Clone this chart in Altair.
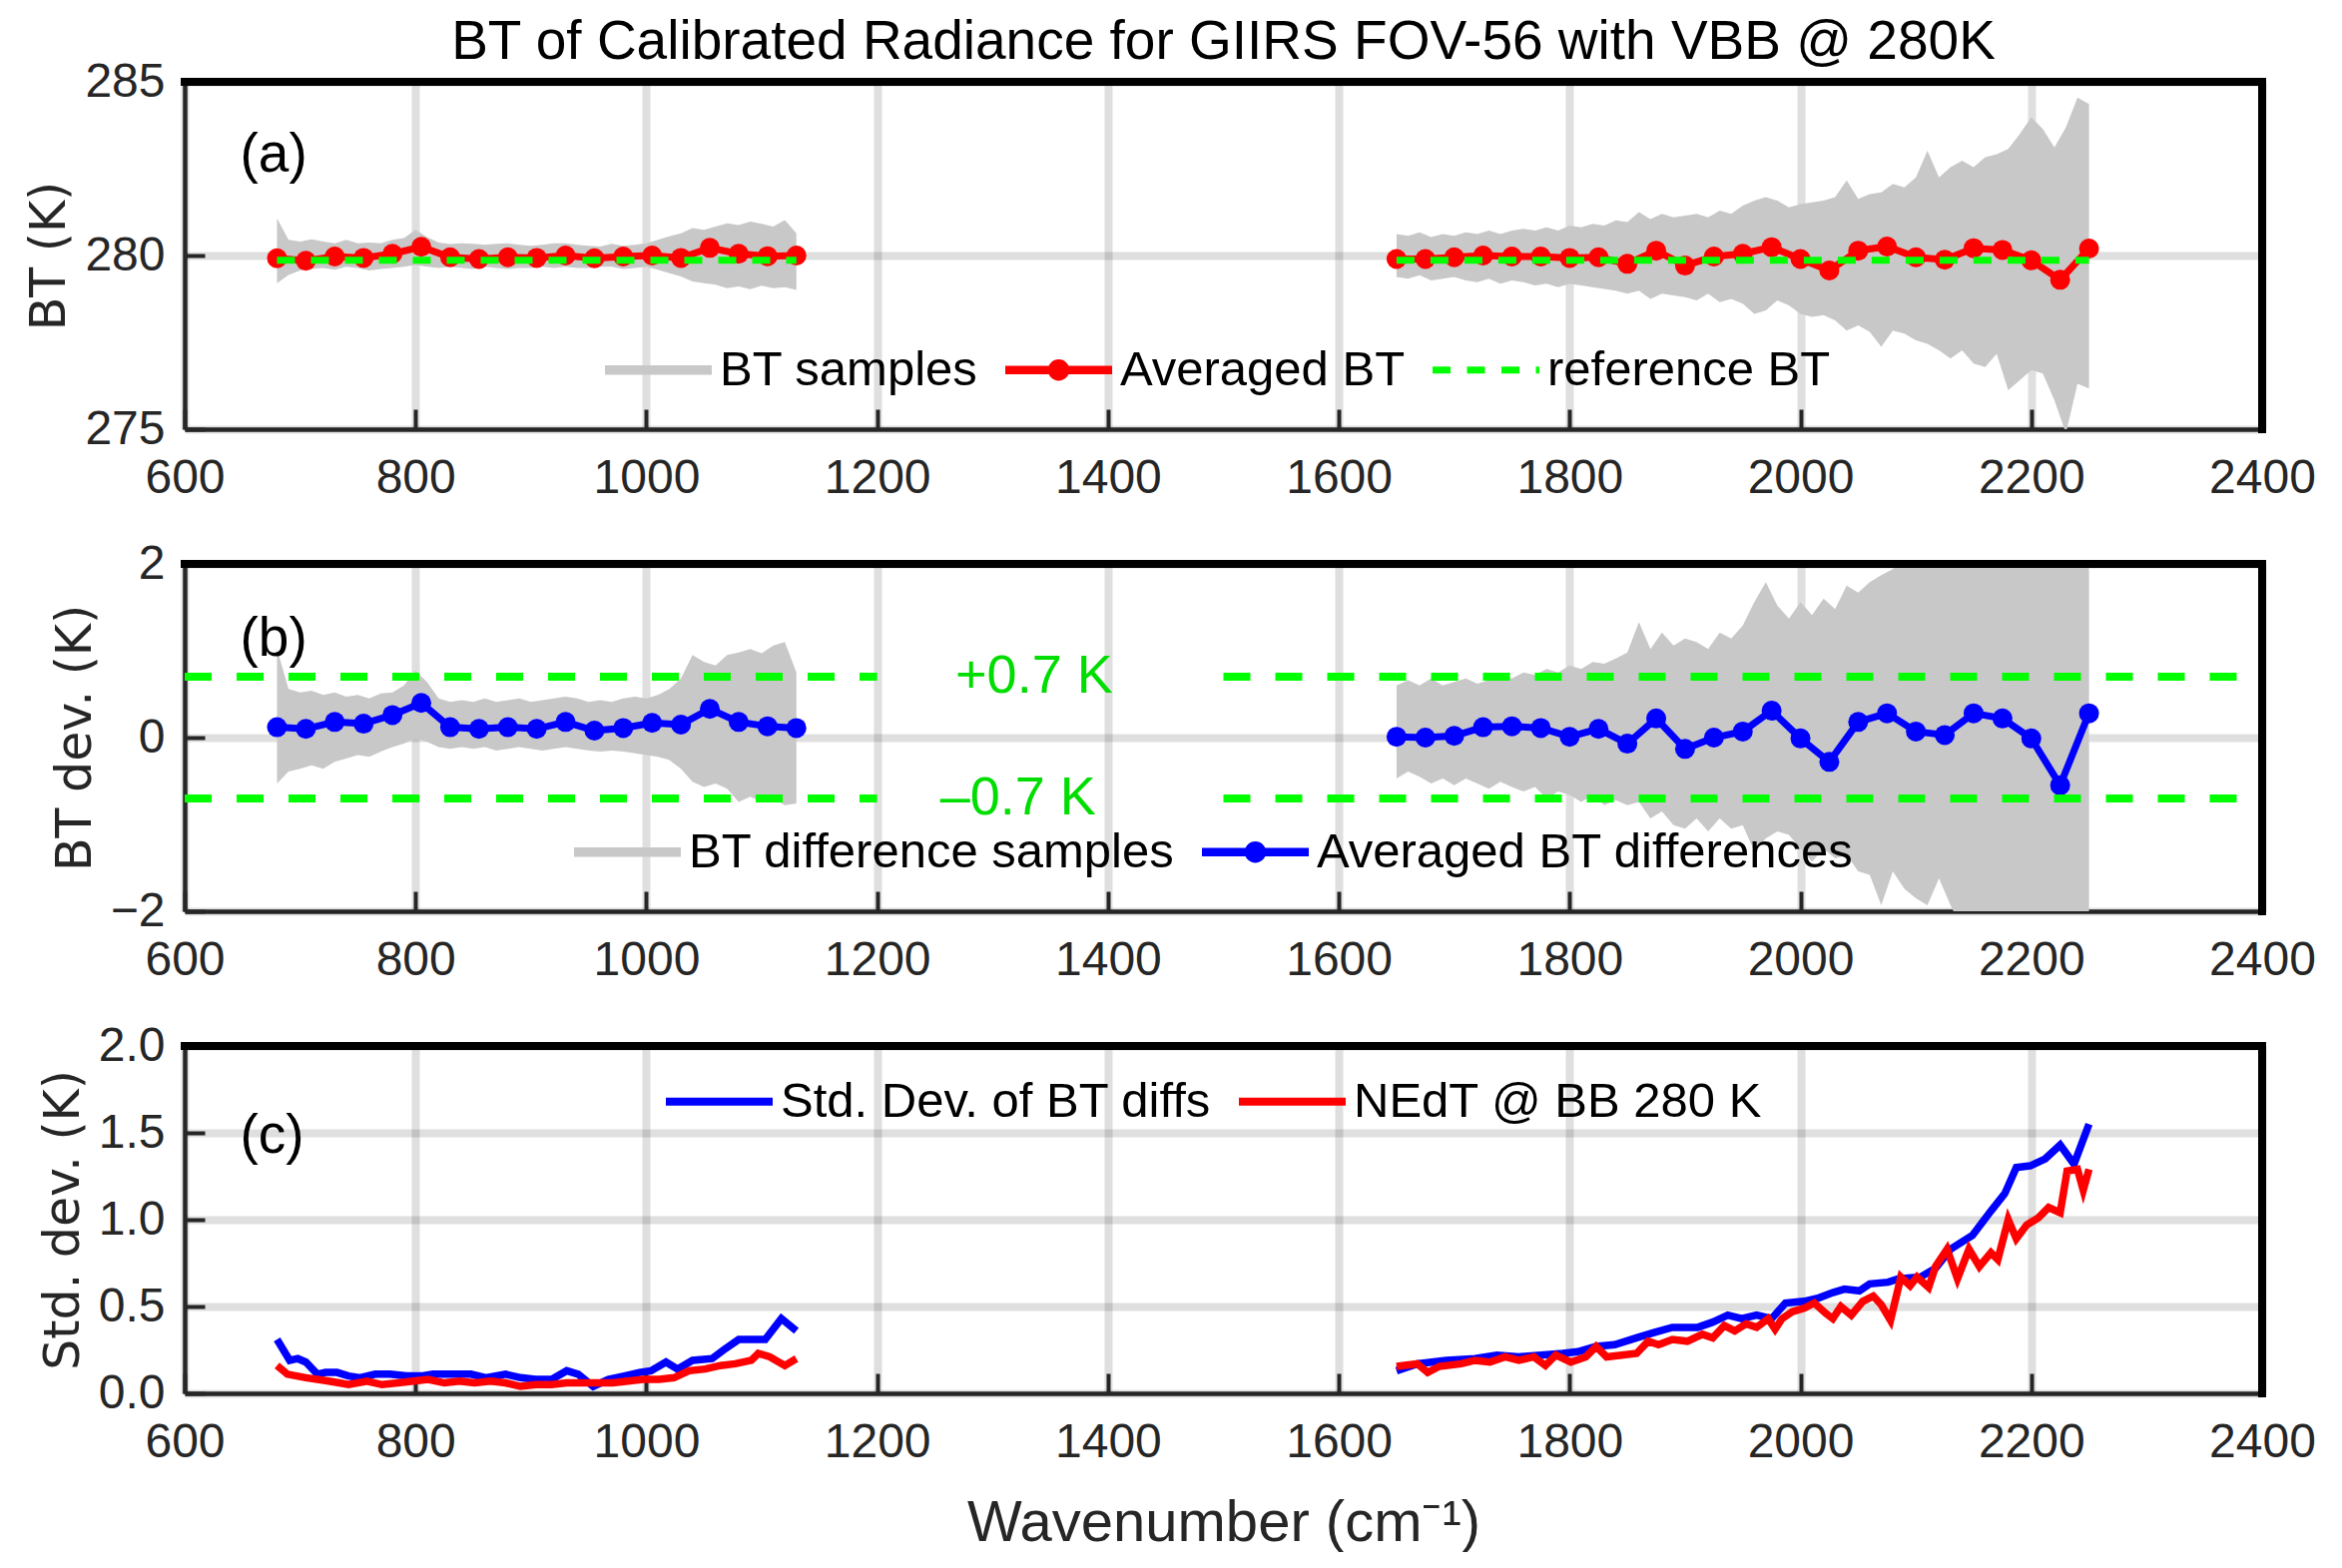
import altair as alt
import pandas as pd

# ---------------- text ----------------
TITLE = "BT of Calibrated Radiance for GIIRS FOV-56 with VBB @ 280K"
X_TITLE = "Wavenumber (cm\u207b\u00b9)"
Y_TITLES = ["BT (K)", "BT dev. (K)", "Std. dev. (K)"]
PANEL_TAGS = ["(a)", "(b)", "(c)"]
LEG_A = ["BT samples", "Averaged BT", "reference BT"]
LEG_B = ["BT difference samples", "Averaged BT differences"]
LEG_C = ["Std. Dev. of BT diffs", "NEdT @ BB 280 K"]
LIMIT_TEXT = ["+0.7 K", "\u20130.7 K"]

# ---------------- ticks ----------------
X_TICKS = [600, 800, 1000, 1200, 1400, 1600, 1800, 2000, 2200, 2400]
YA_TICKS = [275, 280, 285]
YB_TICKS = [-2, 0, 2]
YC_TICKS = [0, 0.5, 1.0, 1.5, 2.0]

# ---------------- averaged points ----------------
AVG_LW_X = [680, 705, 730, 755, 780, 805, 830, 855, 880, 905, 930, 955, 980, 1005, 1030, 1055, 1080, 1105, 1130]
AVG_MW_X = [1650, 1675, 1700, 1725, 1750, 1775, 1800, 1825, 1850, 1875, 1900, 1925, 1950, 1975, 2000, 2025,
            2050, 2075, 2100, 2125, 2150, 2175, 2200, 2225, 2250]
BT_AVG_LW = [279.92, 279.85, 279.97, 279.93, 280.05, 280.25, 279.95, 279.90, 279.95, 279.93, 280.00, 279.92,
             279.97, 280.00, 279.93, 280.22, 280.05, 279.98, 280.00]
BT_AVG_MW = [279.90, 279.90, 279.95, 280.00, 279.97, 279.97, 279.93, 279.95, 279.76, 280.14, 279.71, 279.97,
             280.05, 280.24, 279.90, 279.57, 280.14, 280.26, 279.95, 279.88, 280.21, 280.16, 279.86, 279.30, 280.20]
DIFF_AVG_LW = [0.12, 0.10, 0.18, 0.16, 0.26, 0.40, 0.12, 0.10, 0.12, 0.10, 0.18, 0.08, 0.11, 0.17, 0.15, 0.33,
               0.18, 0.13, 0.11]
DIFF_AVG_MW = [0.01, 0.00, 0.02, 0.12, 0.13, 0.11, 0.01, 0.10, -0.07, 0.22, -0.13, 0.00, 0.07, 0.31, -0.01,
               -0.28, 0.18, 0.28, 0.07, 0.03, 0.28, 0.22, -0.01, -0.55, 0.28]
REF_BT = 279.86
REF_X = [[680, 1130], [1650, 2250]]
LIMIT_LEVELS = [0.7, -0.7]
LIMIT_SEGS = [[600, 1200], [1500, 2400]]

# ---------------- sample envelopes (upper / lower edge of the grey noise) ----------------
ENV_LW_X = [680, 690, 700, 710, 720, 730, 740, 750, 760, 770, 780, 790, 800, 810, 820, 830, 840, 850, 860, 870,
            880, 890, 900, 910, 920, 930, 940, 950, 960, 970, 980, 990, 1000, 1010, 1020, 1030, 1040, 1050, 1060,
            1070, 1080, 1090, 1100, 1110, 1120, 1130]
ENV_MW_X = [1650, 1660, 1670, 1680, 1690, 1700, 1710, 1720, 1730, 1740, 1750, 1760, 1770, 1780, 1790, 1800,
            1810, 1820, 1830, 1840, 1850, 1860, 1870, 1880, 1890, 1900, 1910, 1920, 1930, 1940, 1950, 1960,
            1970, 1980, 1990, 2000, 2010, 2020, 2030, 2040, 2050, 2060, 2070, 2080, 2090, 2100, 2110, 2120,
            2130, 2140, 2150, 2160, 2170, 2180, 2190, 2200, 2210, 2220, 2230, 2240, 2250]

BT_HI_LW = [281.07, 280.45, 280.40, 280.47, 280.40, 280.35, 280.45, 280.35, 280.37, 280.35,
            280.45, 280.50, 280.74, 280.53, 280.37, 280.33, 280.35, 280.34, 280.31, 280.34,
            280.35, 280.31, 280.28, 280.31, 280.35, 280.35, 280.31, 280.28, 280.26, 280.34,
            280.28, 280.31, 280.35, 280.45, 280.55, 280.64, 280.79, 280.74, 280.83, 280.93,
            280.88, 280.98, 280.91, 280.83, 281.02, 280.64]
BT_LO_LW = [279.20, 279.44, 279.57, 279.61, 279.64, 279.59, 279.68, 279.64, 279.57, 279.61,
            279.64, 279.68, 279.73, 279.68, 279.64, 279.68, 279.64, 279.61, 279.68, 279.64,
            279.61, 279.64, 279.64, 279.68, 279.64, 279.68, 279.64, 279.64, 279.68, 279.68,
            279.61, 279.64, 279.68, 279.59, 279.49, 279.40, 279.25, 279.20, 279.16, 279.06,
            279.11, 279.03, 279.13, 279.06, 279.09, 279.01]
BT_HI_MW = [280.62, 280.57, 280.67, 280.53, 280.62, 280.57, 280.67, 280.62, 280.72, 280.62,
            280.72, 280.77, 280.72, 280.81, 280.72, 280.86, 280.81, 280.91, 280.86, 281.01,
            280.96, 281.25, 281.05, 281.20, 281.10, 281.15, 281.20, 281.10, 281.29, 281.20,
            281.44, 281.58, 281.68, 281.58, 281.39, 281.48, 281.53, 281.58, 281.68, 282.16,
            281.63, 281.77, 281.82, 282.06, 281.96, 282.25, 283.02, 282.25, 282.54, 282.73,
            282.54, 282.83, 282.92, 283.07, 283.50, 283.98, 283.64, 283.11, 283.69, 284.55,
            284.36]
BT_LO_MW = [279.38, 279.33, 279.43, 279.28, 279.33, 279.38, 279.28, 279.23, 279.33, 279.19,
            279.28, 279.23, 279.14, 279.19, 279.09, 279.19, 279.14, 279.09, 279.04, 278.99,
            278.90, 278.99, 278.75, 278.90, 278.85, 278.80, 278.71, 278.90, 278.66, 278.75,
            278.61, 278.32, 278.42, 278.71, 278.56, 278.32, 278.23, 278.28, 278.13, 277.84,
            277.99, 277.80, 277.37, 277.84, 277.75, 277.56, 277.46, 277.27, 277.03, 277.27,
            276.89, 276.79, 277.17, 276.12, 276.41, 276.70, 276.60, 275.83, 274.88, 276.31,
            276.17]

DIFF_HI_LW = [1.02, 0.56, 0.52, 0.54, 0.49, 0.52, 0.47, 0.49, 0.45, 0.51,
              0.52, 0.60, 0.77, 0.64, 0.45, 0.41, 0.43, 0.41, 0.45, 0.41,
              0.43, 0.45, 0.41, 0.43, 0.45, 0.47, 0.45, 0.41, 0.43, 0.41,
              0.45, 0.47, 0.45, 0.49, 0.56, 0.68, 0.95, 0.87, 0.83, 0.95,
              0.98, 1.02, 0.97, 1.06, 1.10, 0.75]
DIFF_LO_LW = [-0.53, -0.39, -0.36, -0.32, -0.36, -0.28, -0.24, -0.20, -0.22, -0.16,
              -0.11, -0.07, -0.01, -0.05, -0.11, -0.13, -0.11, -0.13, -0.11, -0.15,
              -0.13, -0.11, -0.13, -0.15, -0.13, -0.11, -0.13, -0.15, -0.16, -0.15,
              -0.16, -0.18, -0.20, -0.22, -0.26, -0.36, -0.51, -0.57, -0.53, -0.59,
              -0.74, -0.68, -0.74, -0.70, -0.78, -0.76]
DIFF_HI_MW = [0.60, 0.66, 0.60, 0.68, 0.60, 0.64, 0.68, 0.62, 0.66, 0.72,
              0.68, 0.75, 0.72, 0.79, 0.75, 0.83, 0.79, 0.87, 0.85, 0.91,
              0.98, 1.33, 1.02, 1.21, 1.06, 1.14, 1.10, 1.02, 1.21, 1.14,
              1.29, 1.56, 1.79, 1.52, 1.37, 1.56, 1.41, 1.60, 1.48, 1.75,
              1.67, 1.79, 1.87, 1.94, 2.10, 2.30, 2.20, 2.50, 2.40, 2.60,
              2.80, 2.70, 3.00, 3.10, 3.30, 3.80, 3.50, 3.20, 3.70, 4.20,
              4.00]
DIFF_LO_MW = [-0.47, -0.39, -0.45, -0.53, -0.47, -0.55, -0.47, -0.53, -0.59, -0.51,
              -0.57, -0.62, -0.57, -0.70, -0.62, -0.66, -0.74, -0.66, -0.78, -0.72,
              -0.78, -0.74, -0.93, -0.85, -1.01, -1.05, -0.93, -1.08, -0.93, -1.05,
              -1.01, -1.31, -1.16, -1.08, -1.12, -1.28, -1.43, -1.28, -1.39, -1.35,
              -1.54, -1.58, -1.93, -1.54, -1.74, -1.85, -1.93, -1.62, -1.93, -2.20,
              -2.40, -2.30, -2.60, -2.80, -2.70, -3.00, -3.20, -3.50, -4.00, -3.30,
              -3.40]

# ---------------- panel (c) ----------------
STD_LW_X = [680, 691, 698, 705, 715, 722, 732, 742, 752, 765, 778, 792, 805, 815, 831, 848, 861, 878, 891, 904,
            918, 931, 941, 954, 967, 981, 994, 1004, 1017, 1027, 1040, 1057, 1067, 1080, 1103, 1117, 1130]
STD_LW = [0.31, 0.19, 0.20, 0.18, 0.11, 0.12, 0.12, 0.10, 0.09, 0.11, 0.11, 0.10, 0.10, 0.11, 0.11, 0.11, 0.09,
          0.11, 0.09, 0.08, 0.08, 0.13, 0.11, 0.04, 0.08, 0.10, 0.12, 0.13, 0.18, 0.14, 0.19, 0.20, 0.25, 0.31,
          0.31, 0.43, 0.36]
NEDT_LW_X = [680, 689, 705, 725, 742, 758, 771, 785, 798, 811, 825, 838, 851, 865, 878, 891, 904, 918, 931, 944,
             957, 971, 984, 997, 1011, 1024, 1037, 1051, 1064, 1077, 1091, 1097, 1107, 1120, 1130]
NEDT_LW = [0.16, 0.11, 0.09, 0.07, 0.05, 0.07, 0.05, 0.06, 0.07, 0.08, 0.06, 0.07, 0.06, 0.07, 0.06, 0.04, 0.05,
           0.05, 0.06, 0.06, 0.06, 0.06, 0.07, 0.08, 0.08, 0.09, 0.13, 0.14, 0.16, 0.17, 0.19, 0.23, 0.21, 0.16,
           0.20]
STD_MW_X = [1650, 1668, 1693, 1718, 1737, 1756, 1775, 1794, 1807, 1823, 1839, 1858, 1873, 1889, 1911, 1924, 1937,
            1949, 1962, 1975, 1987, 2003, 2016, 2028, 2038, 2051, 2060, 2076, 2085, 2104, 2117, 2130, 2149, 2165,
            2177, 2187, 2199, 2212, 2225, 2237, 2250]
STD_MW = [0.13, 0.17, 0.19, 0.20, 0.22, 0.21, 0.22, 0.23, 0.24, 0.27, 0.28, 0.32, 0.35, 0.38, 0.38, 0.41, 0.45,
          0.43, 0.45, 0.43, 0.52, 0.53, 0.55, 0.58, 0.60, 0.59, 0.63, 0.64, 0.66, 0.67, 0.72, 0.83, 0.91, 1.05,
          1.15, 1.30, 1.31, 1.35, 1.43, 1.32, 1.55]
NEDT_MW_X = [1650, 1668, 1677, 1687, 1706, 1718, 1731, 1744, 1756, 1769, 1779, 1788, 1801, 1814, 1823, 1832, 1845,
             1858, 1868, 1877, 1889, 1902, 1915, 1924, 1934, 1943, 1953, 1962, 1972, 1978, 1984, 1993, 2003, 2012,
             2022, 2028, 2035, 2044, 2054, 2063, 2070, 2078, 2087, 2095, 2101, 2111, 2117, 2127, 2136, 2146, 2155,
             2165, 2171, 2180, 2187, 2196, 2206, 2215, 2225, 2231, 2240, 2245, 2250]
NEDT_MW = [0.155, 0.17, 0.12, 0.155, 0.17, 0.19, 0.18, 0.21, 0.19, 0.21, 0.16, 0.22, 0.18, 0.21, 0.27, 0.21, 0.22,
           0.23, 0.30, 0.28, 0.31, 0.30, 0.34, 0.32, 0.39, 0.36, 0.40, 0.38, 0.43, 0.37, 0.43, 0.47, 0.49, 0.52,
           0.46, 0.43, 0.50, 0.45, 0.53, 0.56, 0.51, 0.42, 0.67, 0.62, 0.67, 0.61, 0.73, 0.83, 0.66, 0.83, 0.73,
           0.81, 0.77, 1.00, 0.89, 0.97, 1.01, 1.07, 1.04, 1.28, 1.29, 1.17, 1.29]

# ---------------- annotation anchors (data units) ----------------
TAG_X = 648
TAG_Y = [282.9, 1.14, 1.48]
LIMIT_TEXT_X = [1336, 1322]

# ---------------- style ----------------
W, H = 2081, 348
FONT = "Liberation Sans"
YFONT = "DejaVu Sans"
INK = "#262626"
GREY = "#c8c8c8"
RED = "#ff0000"
BLUE = "#0000ff"
GREEN = "#00ff00"
GREEN_TXT = "#00dd00"

# legend glyphs (unit square paths, all drawn clockwise so overlaps stay filled)
P_LINE = "M-1,-0.09H1V0.09H-1Z"
P_LINE_DOT = ("M-1,-0.08H1V0.08H-1Z "
              "M-0.2,0A0.2,0.2 0 1,1 0.2,0A0.2,0.2 0 1,1 -0.2,0Z")
P_DASH = ("M-1,-0.065H-0.664V0.065H-1Z M-0.355,-0.065H-0.019V0.065H-0.355Z "
          "M0.29,-0.065H0.626V0.065H0.29Z M0.935,-0.065H1V0.065H0.935Z")
P_THIN = "M-1,-0.075H1V0.075H-1Z"

# ---------------- tables ----------------
def band_rows(xs, hi, lo, band):
    return pd.DataFrame({"x": xs, "hi": hi, "lo": lo, "band": band})

env_a = pd.concat([band_rows(ENV_LW_X, BT_HI_LW, BT_LO_LW, "LW"),
                   band_rows(ENV_MW_X, BT_HI_MW, BT_LO_MW, "MW")])
env_b = pd.concat([band_rows(ENV_LW_X, DIFF_HI_LW, DIFF_LO_LW, "LW"),
                   band_rows(ENV_MW_X, DIFF_HI_MW, DIFF_LO_MW, "MW")])
avg = pd.DataFrame({
    "x": AVG_LW_X + AVG_MW_X,
    "bt": BT_AVG_LW + BT_AVG_MW,
    "d": DIFF_AVG_LW + DIFF_AVG_MW,
    "band": ["LW"] * len(AVG_LW_X) + ["MW"] * len(AVG_MW_X),
})
avg["sa"] = LEG_A[1]
avg["sb"] = LEG_B[1]
ref = pd.DataFrame({"x": REF_X[0] + REF_X[1], "y": [REF_BT] * 4, "band": ["LW", "LW", "MW", "MW"]})
lim_rows = []
for lv in LIMIT_LEVELS:
    for k, seg in enumerate(LIMIT_SEGS):
        for xv in seg:
            lim_rows.append({"x": xv, "y": lv, "seg": f"{lv}_{k}"})
lim = pd.DataFrame(lim_rows)
lim_txt = pd.DataFrame({"x": LIMIT_TEXT_X, "y": LIMIT_LEVELS, "t": LIMIT_TEXT})
std = pd.concat([
    pd.DataFrame({"x": STD_LW_X, "y": STD_LW, "band": "LW", "s": LEG_C[0]}),
    pd.DataFrame({"x": STD_MW_X, "y": STD_MW, "band": "MW", "s": LEG_C[0]}),
])
nedt = pd.concat([
    pd.DataFrame({"x": NEDT_LW_X, "y": NEDT_LW, "band": "LW"}),
    pd.DataFrame({"x": NEDT_MW_X, "y": NEDT_MW, "band": "MW"}),
])
frame_data = alt.Data(values=[{"k": 1}])

xs = alt.Scale(domain=[600, 2400], nice=False, zero=False)


def xenc(title=None):
    return alt.X("x:Q", scale=xs, axis=alt.Axis(values=X_TICKS, format="d", title=title))


def legend(lx, ly):
    return alt.Legend(title=None, orient="none", legendX=lx, legendY=ly, direction="horizontal",
                      symbolSize=11449, symbolOpacity=1, symbolStrokeWidth=0, labelOffset=8,
                      columnPadding=27, padding=0, labelFont=FONT, labelFontSize=49,
                      labelColor="black", labelLimit=2000)


def frame():
    top = alt.Chart(frame_data).mark_rule(color="black", strokeWidth=8, strokeCap="square").encode(
        x=alt.value(0), x2=alt.value(W), y=alt.value(0))
    right = alt.Chart(frame_data).mark_rule(color="black", strokeWidth=8, strokeCap="square").encode(
        x=alt.value(W), y=alt.value(0), y2=alt.value(H))
    return [top, right]


def tag(i, ysc, yax, xt=None):
    d = pd.DataFrame({"x": [TAG_X], "y": [TAG_Y[i]], "t": [PANEL_TAGS[i]]})
    return alt.Chart(d).mark_text(align="left", baseline="middle", font=FONT, fontSize=55,
                                  color="black").encode(x=xenc(xt), y=alt.Y("y:Q", scale=ysc, axis=yax),
                                                        text="t:N")


# ---------------- panel (a) ----------------
ys_a = alt.Scale(domain=[275, 285], nice=False, zero=False)
ya = alt.Axis(values=YA_TICKS, format="d", title=Y_TITLES[0])
a_layers = [
    alt.Chart(env_a).mark_area(color=GREY, clip=True).encode(
        x=xenc(), y=alt.Y("hi:Q", scale=ys_a, axis=ya), y2="lo:Q", detail="band:N"),
    alt.Chart(avg).mark_line(color=RED, strokeWidth=7).encode(
        x=xenc(), y=alt.Y("bt:Q", scale=ys_a, axis=ya), detail="band:N"),
    alt.Chart(avg).mark_circle(color=RED, size=400, opacity=1).encode(
        x=xenc(), y=alt.Y("bt:Q", scale=ys_a, axis=ya)),
    alt.Chart(ref).mark_line(color=GREEN, strokeWidth=7, strokeDash=[18, 16]).encode(
        x=xenc(), y=alt.Y("y:Q", scale=ys_a, axis=ya), detail="band:N"),
    tag(0, ys_a, ya),
    alt.Chart(avg).mark_point(filled=True, opacity=0, size=10).encode(
        x=xenc(), y=alt.Y("bt:Q", scale=ys_a, axis=ya),
        color=alt.Color("sa:N", scale=alt.Scale(domain=LEG_A, range=[GREY, RED, GREEN]), legend=legend(421, 235)),
        shape=alt.Shape("sa:N", scale=alt.Scale(domain=LEG_A, range=[P_LINE, P_LINE_DOT, P_DASH]),
                        legend=legend(421, 235))),
] + frame()
panel_a = alt.layer(*a_layers).properties(
    width=W, height=H,
    title=alt.Title(TITLE, font=FONT, fontSize=55, fontWeight="normal", color="black", anchor="middle",
                    frame="group", baseline="alphabetic", offset=-56))

# ---------------- panel (b) ----------------
ys_b = alt.Scale(domain=[-2, 2], nice=False, zero=False)
yb = alt.Axis(values=YB_TICKS, format="d", title=Y_TITLES[1])
b_layers = [
    alt.Chart(env_b).mark_area(color=GREY, clip=True).encode(
        x=xenc(), y=alt.Y("hi:Q", scale=ys_b, axis=yb), y2="lo:Q", detail="band:N"),
    alt.Chart(avg).mark_line(color=BLUE, strokeWidth=7).encode(
        x=xenc(), y=alt.Y("d:Q", scale=ys_b, axis=yb), detail="band:N"),
    alt.Chart(avg).mark_circle(color=BLUE, size=400, opacity=1).encode(
        x=xenc(), y=alt.Y("d:Q", scale=ys_b, axis=yb)),
    alt.Chart(lim).mark_line(color=GREEN, strokeWidth=8, strokeDash=[27, 25]).encode(
        x=xenc(), y=alt.Y("y:Q", scale=ys_b, axis=yb), detail="seg:N"),
    alt.Chart(lim_txt).mark_text(align="center", baseline="middle", font=FONT, fontSize=54,
                                 color=GREEN_TXT).encode(
        x=xenc(), y=alt.Y("y:Q", scale=ys_b, axis=yb), text="t:N"),
    tag(1, ys_b, yb),
    alt.Chart(avg).mark_point(filled=True, opacity=0, size=10).encode(
        x=xenc(), y=alt.Y("d:Q", scale=ys_b, axis=yb),
        color=alt.Color("sb:N", scale=alt.Scale(domain=LEG_B, range=[GREY, BLUE]), legend=legend(390, 235)),
        shape=alt.Shape("sb:N", scale=alt.Scale(domain=LEG_B, range=[P_LINE, P_LINE_DOT]),
                        legend=legend(390, 235))),
] + frame()
panel_b = alt.layer(*b_layers).properties(width=W, height=H)

# ---------------- panel (c) ----------------
ys_c = alt.Scale(domain=[0, 2], nice=False, zero=False)
yc = alt.Axis(values=YC_TICKS, format=".1f", title=Y_TITLES[2])
c_layers = [
    alt.Chart(std).mark_line(color=BLUE, strokeWidth=7.5).encode(
        x=xenc(X_TITLE), y=alt.Y("y:Q", scale=ys_c, axis=yc), detail="band:N"),
    alt.Chart(nedt).mark_line(color=RED, strokeWidth=7.5).encode(
        x=xenc(X_TITLE), y=alt.Y("y:Q", scale=ys_c, axis=yc), detail="band:N"),
    tag(2, ys_c, yc, X_TITLE),
    alt.Chart(std).mark_point(filled=True, opacity=0, size=10).encode(
        x=xenc(X_TITLE), y=alt.Y("y:Q", scale=ys_c, axis=yc),
        color=alt.Color("s:N", scale=alt.Scale(domain=LEG_C, range=[BLUE, RED]), legend=legend(482, 2)),
        shape=alt.Shape("s:N", scale=alt.Scale(domain=LEG_C, range=[P_THIN, P_THIN]),
                        legend=legend(482, 2))),
] + frame()
panel_c = alt.layer(*c_layers).properties(width=W, height=H)

chart = alt.vconcat(panel_a, panel_b, panel_c, spacing=135, bounds="flush").resolve_scale(
    color="independent", shape="independent"
).properties(
    padding={"left": 17, "top": 7, "right": 10, "bottom": 0}
).configure_view(
    strokeWidth=0
).configure_axis(
    domainColor=INK, domainWidth=4.5, tickColor=INK, tickWidth=4, tickSize={"expr": "-20"},
    labelFont=FONT, labelFontSize=48, labelColor=INK, labelFlush=False, labelOverlap=False,
    gridColor=INK, gridOpacity=0.15, gridWidth=8,
    titleFont=YFONT, titleFontSize=49, titleFontWeight="normal", titleColor=INK,
).configure_axisX(
    labelPadding=45, titleFont=FONT, titleFontSize=58, titlePadding=28
).configure_axisY(
    labelPadding=40, titlePadding=10
)

chart.save("out.html", embed_options={"renderer": "svg", "actions": False})
